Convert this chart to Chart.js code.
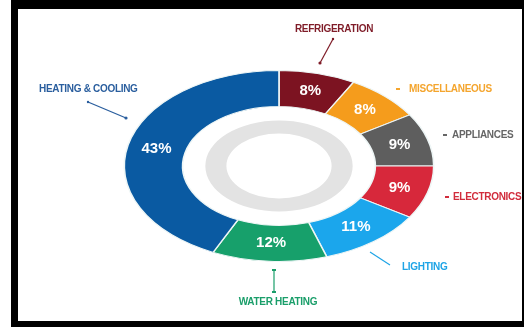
<!DOCTYPE html>
<html>
<head>
<meta charset="utf-8">
<script src="https://cdn.jsdelivr.net/npm/chart.js@4.4.0/dist/chart.umd.min.js"></script>
<style>
  html, body { margin: 0; padding: 0; background: #fff; }
  #wrap { position: relative; width: 524px; height: 327px; overflow: hidden; }
  #chart { position: absolute; left: 0; top: 0; }
  #frame {
    position: absolute; left: 11px; top: 0; width: 513px; height: 327px;
    box-sizing: border-box; border: solid #000;
    border-width: 9px 2px 6px 7px; pointer-events: none;
  }
</style>
</head>
<body>
<div id="wrap">
  <canvas id="chart" width="524" height="327"></canvas>
  <div id="frame"></div>
</div>
<script>
// data, clockwise from 12 o'clock
const categories = ["REFRIGERATION", "MISCELLANEOUS", "APPLIANCES", "ELECTRONICS", "LIGHTING", "WATER HEATING", "HEATING & COOLING"];
const shares = [8, 8, 9, 9, 11, 12, 43];
const spacerRing = [1];
const innerRing = [1];

const sliceColors = ["#7c1321", "#f59c1c", "#5e5e5e", "#d7283b", "#1ba6ec", "#17a06b", "#0a5aa2"];
const labelColors = ["#7f1c28", "#f4a52e", "#666666", "#d12c3c", "#1ea4e6", "#1a9e6a", "#2a5e9e"];

// the picture is stretched sideways, so the ring is drawn as an ellipse
const stretch = 1.62;

// callout text + leader lines (annotation layout only)
const callouts = [
  { x: 334, y: 29, align: "center", line: [[333, 39], [320, 63]], dot: 1 },
  { x: 409, y: 89, align: "left", tick: [398, 89] },
  { x: 452, y: 135, align: "left", tick: [445, 135] },
  { x: 453, y: 197, align: "left", tick: [447, 197] },
  { x: 402, y: 267, align: "left", line: [[370, 252], [390, 265]] },
  { x: 278, y: 302, align: "center", line: [[274, 270], [274, 292]], bar: 1 },
  { x: 39, y: 89, align: "left", line: [[88, 102], [126, 118]], dot: 1 }
];

function centerOf(chart) {
  const a = chart.chartArea;
  return { cx: (a.left + a.right) / 2, cy: (a.top + a.bottom) / 2 };
}

const ellipsePlugin = {
  id: "ellipse",
  beforeDatasetsDraw(chart) {
    const ctx = chart.ctx;
    const { cx, cy } = centerOf(chart);
    ctx.save();
    ctx.translate(cx, cy);
    ctx.scale(stretch, 1);
    ctx.translate(-cx, -cy);
  },
  afterDatasetsDraw(chart) {
    chart.ctx.restore();
  }
};

const labelPlugin = {
  id: "labels",
  afterDraw(chart) {
    const ctx = chart.ctx;
    const { cx } = centerOf(chart);
    ctx.save();

    // percentages inside the ring
    ctx.fillStyle = "#ffffff";
    ctx.font = "bold 15px 'Liberation Sans', Arial, sans-serif";
    ctx.textAlign = "center";
    ctx.textBaseline = "middle";
    chart.getDatasetMeta(0).data.forEach((arc, i) => {
      const p = arc.tooltipPosition();
      ctx.fillText(shares[i] + "%", cx + (p.x - cx) * stretch, p.y);
    });

    // category callouts
    ctx.font = "bold 10px 'Liberation Sans', Arial, sans-serif";
    ctx.letterSpacing = "-0.3px";
    callouts.forEach((c, i) => {
      ctx.fillStyle = labelColors[i];
      ctx.strokeStyle = labelColors[i];
      ctx.textAlign = c.align;
      ctx.fillText(categories[i], c.x, c.y);
      if (c.tick) {
        ctx.fillRect(c.tick[0] - 2, c.tick[1] - 1, 4, 2);
      }
      if (c.line) {
        const [a, b] = c.line;
        ctx.lineWidth = 1.2;
        ctx.beginPath();
        ctx.moveTo(a[0], a[1]);
        ctx.lineTo(b[0], b[1]);
        ctx.stroke();
        if (c.dot) {
          ctx.beginPath();
          ctx.arc(b[0], b[1], 1.6, 0, Math.PI * 2);
          ctx.arc(a[0], a[1], 1.2, 0, Math.PI * 2);
          ctx.fill();
        }
        if (c.bar) {
          ctx.fillRect(a[0] - 2, a[1] - 1, 4, 2);
          ctx.fillRect(b[0] - 2, b[1] - 1, 4, 2);
        }
      }
    });
    ctx.restore();
  }
};

new Chart(document.getElementById("chart"), {
  type: "doughnut",
  data: {
    labels: categories,
    datasets: [
      {
        data: shares,
        backgroundColor: sliceColors,
        borderColor: "#eef6f6",
        borderWidth: 1,
        weight: 36,
        clip: false
      },
      {
        data: spacerRing,
        backgroundColor: "rgba(0,0,0,0)",
        borderWidth: 0,
        weight: 14,
        clip: false
      },
      {
        data: innerRing,
        backgroundColor: "#e3e3e3",
        borderWidth: 0,
        weight: 13,
        clip: false
      }
    ]
  },
  options: {
    responsive: false,
    animation: false,
    cutout: "34%",
    layout: { padding: { top: 70, bottom: 65, left: 60, right: 26 } },
    plugins: {
      legend: { display: false },
      tooltip: { enabled: false }
    },
    events: []
  },
  plugins: [ellipsePlugin, labelPlugin]
});
</script>
</body>
</html>
